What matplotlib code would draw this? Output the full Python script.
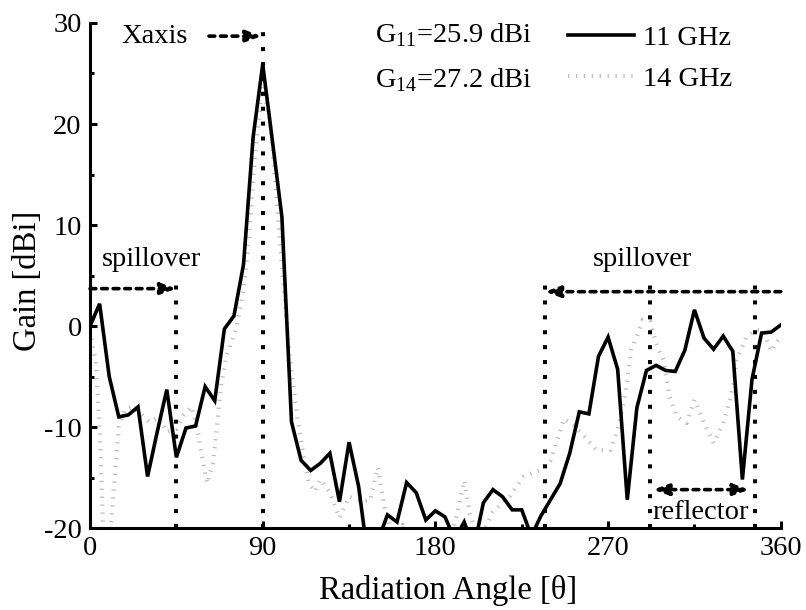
import matplotlib
matplotlib.use("Agg")
import matplotlib.pyplot as plt
from matplotlib.ticker import MultipleLocator

plt.rcParams["font.family"] = ["Liberation Serif", "DejaVu Serif"]
plt.rcParams["mathtext.fontset"] = "custom"
plt.rcParams["mathtext.rm"] = "Liberation Serif"
plt.rcParams["axes.unicode_minus"] = False

# ── data ───────────────────────────────────────────────────────────────────
angle_11 = list(range(0, 361, 5))
gain_11 = [
    0.0, 2.2, -5.0, -9.0, -8.8, -8.0, -14.9, -10.5, -6.3, -13.0,
    -10.1, -9.9, -6.0, -7.4, -0.3, 1.0, 6.1, 18.7, 25.9, 18.4,
    10.8, -9.5, -13.3, -14.3, -13.6, -12.6, -17.4, -11.5, -15.9, -23.2,
    -21.3, -18.7, -19.4, -15.5, -16.5, -19.2, -18.3, -18.9, -21.1, -19.4,
    -22.0, -17.5, -16.2, -16.9, -18.2, -18.2, -20.8, -18.8, -17.2, -15.6,
    -12.6, -8.5, -8.7, -3.0, -1.1, -4.3, -17.2, -8.1, -4.4, -3.9,
    -4.4, -4.5, -2.4, 1.6, -1.2, -2.3, -1.0, -2.5, -15.2, -5.3,
    -0.7, -0.6, 0.1,
]

angle_14 = [
    0, 3, 5, 7, 10, 12, 15, 18, 22, 26, 31, 36, 40, 45, 49, 53, 56, 59, 61,
    64, 66, 68, 71, 76, 80, 83, 86, 90, 94, 97, 100, 104, 108, 111, 114, 117,
    120, 125, 130, 135, 141, 146, 150, 154, 158, 163, 168, 178, 188, 192, 195,
    198, 202, 206, 210, 215, 219, 226, 234, 240, 244, 247, 252, 258, 264, 271,
    275, 279, 282, 285, 288, 292, 295, 299, 302, 306, 311, 315, 320, 325, 330,
    334, 337, 342, 347, 351, 355, 360,
]
gain_14 = [
    -0.5, -3.5, -10.0, -21.0, -22.0, -17.0, -10.0, -8.3, -8.0, -8.6, -9.5,
    -9.0, -10.5, -10.2, -8.8, -8.0, -10.3, -13.6, -15.6, -13.6, -10.3, -6.3,
    -3.0, -0.4, 3.5, 9.0, 17.0, 24.0, 20.0, 13.0, 6.0, -2.7, -9.0, -12.6,
    -15.5, -16.4, -15.2, -16.5, -19.0, -16.9, -17.3, -17.3, -14.0, -18.5,
    -21.0, -19.7, -21.0, -22.5, -21.0, -18.0, -15.3, -18.6, -21.0, -20.0,
    -18.4, -17.5, -16.8, -14.9, -14.3, -13.3, -11.0, -9.2, -9.8, -11.0,
    -12.3, -12.3, -10.3, -6.7, -2.4, -1.0, 0.6, 0.4, -1.7, -3.4, -7.0,
    -9.0, -9.6, -7.3, -9.6, -11.6, -9.6, -7.0, -3.4, -1.1, -0.4, -0.5,
    -2.5, -1.0,
]

series_labels = ["11 GHz", "14 GHz"]
peak_text = ["G$_{11}$=25.9 dBi", "G$_{14}$=27.2 dBi"]
x_ticks = [0, 90, 180, 270, 360]

FS = 20.5

fig = plt.figure(figsize=(8.06, 6.10), dpi=100)
ax = fig.add_axes([0.1117, 0.1344, 0.8570, 0.8279])

line14, = ax.plot(angle_14, gain_14, color="#bcbcbc", lw=3.0,
                  ls=(0, (0.3, 1.6)), dash_capstyle="butt", label=series_labels[1], zorder=2)
line11, = ax.plot(angle_11, gain_11, color="black", lw=2.6,
                  solid_joinstyle="miter", label=series_labels[0], zorder=3)

# ── dotted guide lines & arrows ───────────────────────────────────────────
vdots = dict(color="black", lw=2.9, ls=(0, (1, 2.7)), dash_capstyle="butt", zorder=4)
ax.plot([45, 45], [-20, 4.2], **vdots)
ax.plot([90, 90], [-20, 30], **vdots)
for xv in (237, 292, 346.5):
    ax.plot([xv, xv], [-20, 4.3], **vdots)


def dashed_arrow(x0, x1, y, style="-|>"):
    ax.annotate("", xy=(x1, y), xytext=(x0, y),
                arrowprops=dict(arrowstyle=f"{style},head_length=0.9,head_width=0.33",
                                lw=2.6, ls=(0, (1.6, 1.6)), color="black",
                                shrinkA=0, shrinkB=0), zorder=5)


dashed_arrow(0, 45, 3.7)
dashed_arrow(62, 89.5, 28.7)
dashed_arrow(360, 237, 3.4)
dashed_arrow(293.5, 343.5, -16.2, style="<|-|>")

ax.text(16.5, 28.0, "Xaxis", fontsize=FS, ha="left", va="baseline")
ax.text(6.1, 5.9, "spillover", fontsize=FS, ha="left", va="baseline")
ax.text(262.3, 5.9, "spillover", fontsize=FS, ha="left", va="baseline")
ax.text(293.2, -19.15, "reflector", fontsize=FS, ha="left", va="baseline")
ax.text(148.5, 28.1, peak_text[0], fontsize=FS, ha="left", va="baseline")
ax.text(148.5, 23.6, peak_text[1], fontsize=FS, ha="left", va="baseline")

ax.legend(handles=[line11, line14], loc="upper left", bbox_to_anchor=(0.692, 0.995),
          frameon=False, fontsize=FS, handlelength=2.3, handletextpad=0.35,
          labelspacing=0.5, borderpad=0, borderaxespad=0)

# ── axes formatting ───────────────────────────────────────────────────────
ax.set_xlim(0, 360)
ax.set_ylim(-20, 30)
ax.set_xticks(x_ticks)
ax.xaxis.set_minor_locator(MultipleLocator(45))
ax.yaxis.set_major_locator(MultipleLocator(10))
ax.yaxis.set_minor_locator(MultipleLocator(5))
ax.tick_params(which="both", direction="in", width=2.2, labelsize=FS, pad=6)
ax.tick_params(which="major", length=5)
ax.tick_params(which="minor", length=3)
for side in ("top", "right"):
    ax.spines[side].set_visible(False)
for side in ("left", "bottom"):
    ax.spines[side].set_linewidth(2.2)

ax.set_xlabel("Radiation Angle [θ]", fontsize=23.5)
ax.set_ylabel("Gain [dBi]", fontsize=23.5)
ax.xaxis.set_label_coords(0.518, -0.093)
ax.yaxis.set_label_coords(-0.068, 0.49)

fig.savefig("out.png", dpi=100)
